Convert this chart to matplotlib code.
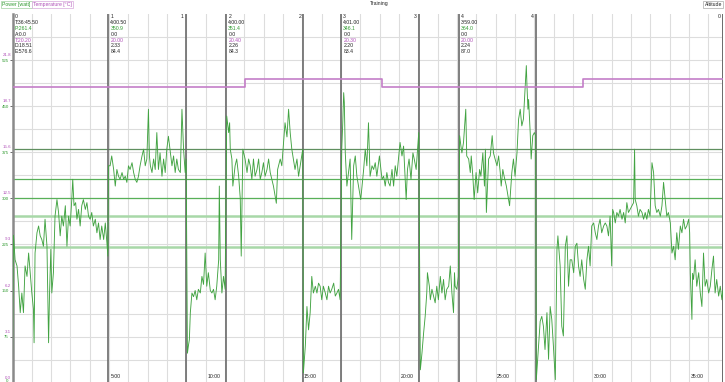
import matplotlib
matplotlib.use("Agg")
import matplotlib.pyplot as plt
from matplotlib.transforms import ScaledTranslation, blended_transform_factory
import numpy as np

# ---------------- data ----------------
# power trace (time in seconds, power in watt)
warm_t = [0, 3, 8, 14, 19, 24, 29, 34, 39, 45, 50, 55, 60, 65, 67, 70, 76, 81, 86, 91, 96, 101, 107, 112, 115,
          119, 122, 127, 132, 138, 143, 148, 153, 158, 164, 169, 174, 179, 184, 187, 191, 196, 200, 205, 210,
          215, 220, 226, 231, 236, 241, 246, 251, 257, 262, 267, 272, 277, 283, 288, 293, 296]
warm_w = [20, 240, 200, 190, 157, 114, 146, 114, 190, 173, 211, 179, 146, 120, 65, 211, 244, 255, 239, 233,
          222, 266, 222, 65, 146, 217, 146, 179, 271, 298, 277, 239, 271, 255, 288, 222, 271, 255, 298, 331,
          288, 293, 266, 282, 255, 288, 298, 282, 293, 271, 266, 277, 255, 266, 244, 260, 233, 255, 233, 260,
          228, 206]

lap1_t = [298, 303, 308, 314, 319, 324, 329, 334, 340, 345, 350, 355, 360, 365, 371, 376, 381, 386, 391, 396,
          402, 407, 412, 417, 422, 425, 428, 433, 438, 443, 448, 453, 458, 464, 469, 474, 479, 484, 490, 495,
          500, 505, 510, 515, 521, 526, 531, 536, 539]
lap1_w = [353, 353, 369, 347, 320, 347, 336, 331, 342, 331, 336, 326, 353, 347, 358, 342, 331, 326, 336, 353,
          369, 380, 353, 364, 445, 369, 353, 342, 364, 347, 407, 347, 374, 336, 364, 342, 380, 401, 374, 353,
          369, 342, 364, 347, 342, 445, 380, 342, 364]

rec1_t = [543, 546, 549, 552, 557, 562, 567, 572, 577, 583, 588, 593, 598, 603, 608, 614, 619, 624, 629, 634,
          640, 642, 645, 650, 655, 660]
rec1_w = [48, 60, 70, 114, 146, 140, 150, 135, 152, 146, 173, 160, 211, 157, 179, 150, 146, 152, 135, 157,
          200, 320, 200, 146, 173, 152]

lap2_t = [665, 671, 674, 676, 681, 684, 691, 696, 702, 707, 710, 715, 722, 728, 733, 738, 743, 748, 753, 759,
          764, 769, 774, 779, 784, 790, 795, 800, 805, 810, 819, 823, 831, 836, 846, 852, 857, 862, 867, 872,
          877, 883, 888, 893, 898, 901]
lap2_w = [434, 407, 423, 380, 364, 320, 353, 364, 336, 300, 206, 380, 364, 342, 364, 353, 331, 364, 336, 347,
          364, 331, 342, 358, 336, 347, 364, 342, 331, 320, 292, 347, 364, 353, 423, 400, 445, 407, 380, 364,
          347, 364, 336, 353, 369, 380]

rec2_t = [903, 909, 914, 919, 924, 929, 934, 940, 945, 950, 955, 960, 965, 971, 976, 981, 986, 991, 997, 1002,
          1007, 1012, 1017]
rec2_w = [16, 60, 124, 86, 114, 173, 146, 157, 146, 162, 157, 135, 157, 146, 135, 157, 146, 152, 162, 141,
          146, 152, 135]

lap3_t = [1022, 1025, 1028, 1030, 1033, 1038, 1043, 1048, 1053, 1059, 1064, 1069, 1074, 1081, 1090, 1095,
          1100, 1105, 1110, 1116, 1121, 1126, 1131, 1139, 1147, 1152, 1157, 1162, 1167, 1172, 1178, 1183,
          1188, 1193, 1203, 1209, 1214, 1222, 1226, 1231, 1237, 1243, 1247, 1253, 1261]
lap3_w = [380, 420, 472, 456, 374, 320, 342, 364, 233, 353, 369, 336, 320, 298, 347, 380, 353, 423, 336, 353,
          347, 358, 336, 369, 331, 336, 320, 342, 326, 320, 347, 320, 353, 336, 391, 369, 385, 298, 347, 364,
          331, 374, 364, 347, 407]

rec3_t = [1266, 1271, 1276, 1281, 1286, 1288, 1294, 1297, 1302, 1307, 1312, 1317, 1322, 1328, 1333, 1338,
          1343, 1348, 1354, 1359, 1364, 1369, 1372, 1374, 1379, 1384]
rec3_w = [21, 48, 80, 108, 146, 179, 157, 135, 152, 141, 130, 157, 135, 173, 146, 168, 135, 152, 157, 190,
          146, 114, 179, 157, 152, 173]

lap4_t = [1388, 1392, 1395, 1400, 1407, 1410, 1416, 1421, 1424, 1429, 1433, 1439, 1444, 1450, 1454, 1460,
          1465, 1468, 1471, 1478, 1483, 1489, 1493, 1498, 1504, 1509, 1514, 1517, 1522, 1526, 1533, 1543,
          1550, 1555, 1560, 1566, 1571, 1576, 1581, 1586, 1595, 1597, 1600, 1602, 1607, 1610, 1615, 1620, 1624]
lap4_w = [402, 385, 374, 391, 445, 369, 364, 342, 369, 336, 298, 342, 309, 347, 336, 374, 320, 380, 277, 364,
          369, 402, 374, 364, 353, 369, 342, 320, 347, 336, 320, 288, 342, 364, 336, 374, 429, 445, 418, 429,
          516, 483, 445, 461, 407, 364, 402, 407, 402]

cool_t = [1626, 1628, 1633, 1638, 1643, 1648, 1653, 1659, 1664, 1669, 1674, 1679, 1685, 1690, 1693, 1700,
          1705, 1710, 1716, 1721, 1726, 1731, 1736, 1742, 1747, 1752, 1757, 1762, 1767, 1773, 1778, 1783,
          1788, 1793, 1798, 1804, 1809, 1814, 1819, 1824, 1829, 1835, 1840, 1845, 1850, 1855, 1860, 1863,
          1866, 1871, 1876, 1881, 1886, 1892, 1897, 1902, 1907, 1912, 1917, 1923, 1928, 1931, 1933, 1938,
          1943, 1948, 1954, 1959, 1964, 1969, 1974, 1979, 1985, 1990, 1995, 2000, 2005, 2011, 2016, 2021,
          2026, 2031, 2036, 2042, 2047, 2052, 2057, 2062, 2067, 2073, 2078, 2083, 2088, 2093, 2099, 2102,
          2104, 2107, 2109, 2111, 2114, 2119, 2124, 2130, 2135, 2140, 2145, 2150, 2155, 2161, 2166, 2171,
          2176, 2181, 2186, 2192, 2197, 2202, 2205]
cool_w = [5, 21, 60, 100, 108, 92, 54, 114, 38, 124, 103, 60, 5, 216, 239, 190, 92, 76, 222, 239, 157, 200,
          200, 179, 222, 227, 190, 173, 200, 168, 152, 200, 222, 190, 255, 260, 244, 233, 255, 266, 244, 255,
          260, 255, 239, 271, 190, 282, 277, 260, 277, 271, 282, 266, 277, 260, 293, 277, 282, 288, 293, 380,
          298, 288, 271, 282, 277, 266, 277, 266, 282, 271, 358, 342, 288, 277, 282, 271, 288, 326, 298, 271,
          277, 260, 211, 222, 200, 244, 217, 255, 244, 266, 250, 255, 266, 244, 178, 135, 103, 178, 168, 200,
          157, 179, 146, 124, 211, 157, 168, 146, 157, 184, 206, 146, 168, 141, 157, 135, 150]

# temperature steps (seconds, degC)
temp_t = [0, 722, 722, 1147, 1147, 1771, 1771, 2205]
temp_c = [20.0, 20.0, 20.5, 20.5, 20.0, 20.0, 20.5, 20.5]

total_s = 2205.5
# laps
lap_start = [0, 297, 663, 1020, 1385]
lap_end = [2205.5, 539, 903, 1262, 1624]
lap_num = ["0", "1", "2", "3", "4"]
lap_time = ["T:36:45.50", "4:00.50", "4:00.00", "4:01.00", "3:59.00"]
lap_power = ["P:261.4", "350.9", "351.4", "346.1", "364.0"]
lap_alt = ["A:0.0", "0.0", "0.0", "0.0", "0.0"]
lap_temp = ["T:20.20", "20.00", "20.40", "20.30", "20.00"]
lap_dist = ["D:18.51", "2.33", "2.26", "2.20", "2.24"]
lap_energy = ["E:576.6", "84.4", "84.3", "83.4", "87.0"]

# zone boundaries (watt)
zone_w = [381, 331, 301, 271, 221]
power_ticks = [0, 75, 150, 225, 300, 375, 450, 525]
temp_max = 21.8
time_ticks = [300, 600, 900, 1200, 1500, 1800, 2100]
time_labels = ["5:00", "10:00", "15:00", "20:00", "25:00", "30:00", "35:00"]

# ---------------- plotting ----------------
GREEN = "#42a342"
GREEN_TXT = "#2f9a2f"
PURPLE = "#c47ec8"
PURPLE_TXT = "#b050b8"
FONT = "Liberation Sans"
FS = 3.7
FSY = 3.2

fig = plt.figure(figsize=(7.25, 3.82), dpi=100)
fig.patch.set_facecolor("white")
ax = fig.add_axes([12.5 / 725, -0.7 / 382, (723 - 12.5) / 725, (382.7 - 14) / 382])
ax.set_xlim(0, total_s)
ax.set_ylim(0, 600)
ax.set_facecolor("white")

# grid
for gx in np.arange(60, total_s, 60):
    ax.axvline(gx, color="#dddddd", lw=0.8, zorder=0)
for gy in np.arange(37.5, 600, 37.5):
    ax.axhline(gy, color="#dddddd", lw=0.8, zorder=0)

# zones
for i, zw in enumerate(zone_w):
    if i == 0:
        ax.axhline(zw, color="#5f8f5f", lw=0.9, zorder=1)
    elif i < 3:
        ax.axhline(zw, color="#58b058", lw=0.9, zorder=1)
    else:
        ax.axhline(zw, color="#a8d8a8", lw=1.8, zorder=1)

# laps
for s, e in zip(lap_start[1:], lap_end[1:]):
    ax.axvline(s, color="#6a6a6a", lw=1.2, zorder=2)
    ax.axvline(e, color="#6a6a6a", lw=1.2, zorder=2)
ax.axvline(total_s - 1.5, color="#6a6a6a", lw=1.4, zorder=2)

# power
pt = warm_t + lap1_t + rec1_t + lap2_t + rec2_t + lap3_t + rec3_t + lap4_t + cool_t
pw = warm_w + lap1_w + rec1_w + lap2_w + rec2_w + lap3_w + rec3_w + lap4_w + cool_w
ax.plot(pt, pw, color=GREEN, lw=0.65, zorder=3)

# temperature on its own scale
ax2 = ax.twinx()
ax2.set_ylim(0, 600 * temp_max / 525)
ax2.plot(temp_t, temp_c, color=PURPLE, lw=1.2, zorder=4)

# spines
for sp in ["top", "right", "bottom"]:
    ax.spines[sp].set_visible(False)
    ax2.spines[sp].set_visible(False)
ax2.spines["left"].set_visible(False)
ax.spines["left"].set_color("#8a8a8a")
ax.spines["left"].set_linewidth(1.8)

# y ticks
ax.set_yticks(power_ticks)
ax.set_yticklabels([str(v) for v in power_ticks], color=GREEN_TXT, fontsize=FSY, family=FONT)
ax.tick_params(axis="y", length=2.2, width=0.6, color="#555555", pad=0.5)
ax.set_xticks([])
# keep the bottom "0" label inside the picture
ylbls = ax.get_yticklabels()
ylbls[0].set_transform(ylbls[0].get_transform() + ScaledTranslation(0, 2.5 / 100, fig.dpi_scale_trans))

temp_ticks = [v * temp_max / 525 for v in power_ticks]
ax2.yaxis.tick_left()
ax2.set_yticks(temp_ticks)
ax2.set_yticklabels(["%.1f" % v for v in temp_ticks], color=PURPLE_TXT, fontsize=FSY, family=FONT)
ax2.tick_params(axis="y", length=0, pad=1.2)
ax2.set_xticks([])
off = ScaledTranslation(0, 5.5 / 100, fig.dpi_scale_trans)
for lbl in ax2.get_yticklabels():
    lbl.set_transform(lbl.get_transform() + off)

# x labels inside the bottom of the plot
tb = blended_transform_factory(ax.transData, fig.transFigure)
dx = ScaledTranslation(1.5 / 100, 0, fig.dpi_scale_trans)
for tt, tl in zip(time_ticks, time_labels):
    ax.text(tt, 1 - 377 / 382, tl, transform=tb + dx, fontsize=FS, family=FONT,
            color="#222222", ha="left", va="center")

# lap header texts
rows = [lap_time, lap_power, lap_alt, lap_temp, lap_dist, lap_energy]
row_colors = ["#222222", GREEN_TXT, "#222222", PURPLE_TXT, "#222222", "#222222"]
row_y = [22.8, 28.7, 34.4, 40.2, 45.9, 51.6]
dxl = ScaledTranslation(2.2 / 100, 0, fig.dpi_scale_trans)
dxr = ScaledTranslation(-2.2 / 100, 0, fig.dpi_scale_trans)
for i in range(len(lap_num)):
    ax.text(lap_start[i], 1 - 16.8 / 382, lap_num[i], transform=tb + dxl, fontsize=FS,
            family=FONT, color="#222222", ha="left", va="center")
    ax.text(lap_end[i], 1 - 16.8 / 382, lap_num[i], transform=tb + dxr, fontsize=FS,
            family=FONT, color="#222222", ha="right", va="center")
    for r, col, yy in zip(rows, row_colors, row_y):
        ax.text(lap_start[i], 1 - yy / 382, r[i], transform=tb + dxl, fontsize=FS,
                family=FONT, color=col, ha="left", va="center")

# legend / titles
fig.text(2 / 725, 1 - 4.5 / 382, "Power [watt]", fontsize=FS, family=FONT, color=GREEN_TXT,
         ha="left", va="center",
         bbox=dict(boxstyle="square,pad=0.25", fc="white", ec="#9fd09f", lw=0.5))
fig.text(33 / 725, 1 - 4.5 / 382, "Temperature [°C]", fontsize=FS, family=FONT, color=PURPLE_TXT,
         ha="left", va="center",
         bbox=dict(boxstyle="square,pad=0.25", fc="white", ec="#d8a8dc", lw=0.5))
fig.text(379 / 725, 1 - 4 / 382, "Training", fontsize=FS, family=FONT, color="#222222",
         ha="center", va="center")
fig.text(722 / 725, 1 - 4.5 / 382, "Altitude", fontsize=FS, family=FONT, color="#222222",
         ha="right", va="center",
         bbox=dict(boxstyle="square,pad=0.25", fc="white", ec="#aaaaaa", lw=0.5))

fig.savefig("out.png", dpi=100, facecolor="white")
